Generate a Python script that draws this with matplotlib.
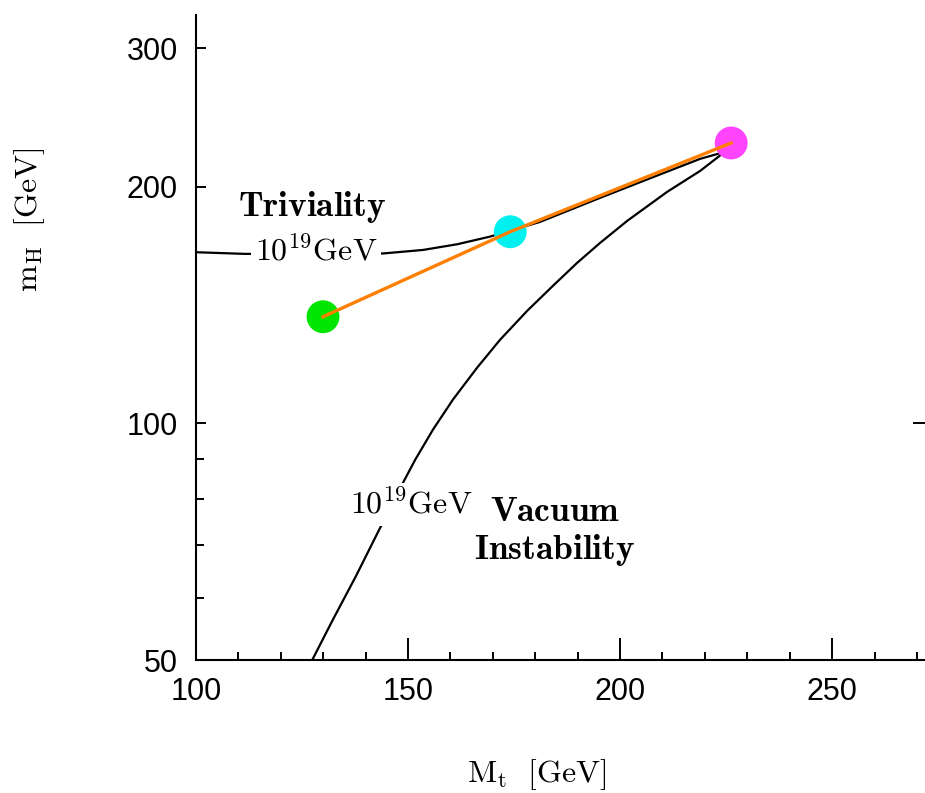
import matplotlib
matplotlib.use("Agg")
import matplotlib.pyplot as plt
from matplotlib.ticker import FixedLocator, NullLocator, FixedFormatter

plt.rcParams["font.family"] = ["Liberation Sans", "DejaVu Sans"]
plt.rcParams["mathtext.fontset"] = "cm"

# vacuum stability bound (10^19 GeV)
vac_mt = [127.4, 132.3, 137.7, 142.9, 148.6, 151.7, 155.9, 160.6, 166.3, 171.7, 178.1,
          184.2, 189.9, 195.3, 201.7, 211.1, 218.9, 224.65]
vac_mh = [50.0, 56.3, 63.9, 72.7, 83.6, 89.9, 98.2, 107.2, 117.7, 127.7, 139.0,
          149.6, 160.0, 169.6, 180.9, 196.9, 209.4, 221.3]

# triviality bound (10^19 GeV)
triv_mt = [100.0, 111.6, 144.1, 153.5, 161.6, 169.3, 181.1, 195.3, 209.4, 218.9, 224.65]
triv_mh = [165.0, 164.2, 164.4, 166.1, 168.9, 172.7, 180.3, 193.5, 207.2, 216.9, 221.3]

# highlighted points
pt_mt = [129.95, 174.1, 226.2]
pt_mh = [136.6, 175.2, 227.2]
pt_colors = ["#00e600", "#00f0f0", "#ff44ff"]

xticks_major = [100, 150, 200, 250]
xticks_minor = [110, 120, 130, 140, 160, 170, 180, 190, 210, 220, 230, 240, 260, 270]
yticks_major = [50, 100, 200, 300]
yticks_minor = [60, 70, 80, 90]

fig = plt.figure(figsize=(9.25, 7.93), dpi=100)
ax = fig.add_axes([0.2119, 0.1677, 0.7881, 0.8133])

ax.plot(vac_mt, vac_mh, color="black", lw=1.6, zorder=2)
ax.plot(triv_mt, triv_mh, color="black", lw=1.6, zorder=2)
ax.scatter(pt_mt, pt_mh, s=560, c=pt_colors, edgecolors="none", zorder=3)
ax.plot(pt_mt, pt_mh, color="#ff8000", lw=2.4, zorder=4)

ax.set_yscale("log")
ax.set_xlim(100, 271.9)
ax.set_ylim(50, 330.4)

ax.xaxis.set_major_locator(FixedLocator(xticks_major))
ax.xaxis.set_minor_locator(FixedLocator(xticks_minor))
ax.yaxis.set_major_locator(FixedLocator(yticks_major))
ax.yaxis.set_major_formatter(FixedFormatter([str(v) for v in yticks_major]))
ax.yaxis.set_minor_locator(FixedLocator(yticks_minor))
ax.yaxis.set_minor_formatter(FixedFormatter([""] * len(yticks_minor)))

ax.tick_params(axis="x", which="major", direction="in", length=16, width=1.4, pad=12, labelsize=22)
ax.tick_params(axis="x", which="minor", direction="in", length=6, width=1.4)
ax.tick_params(axis="y", which="major", direction="in", length=7, width=1.4, pad=13, labelsize=22)
ax.tick_params(axis="y", which="minor", direction="in", length=6, width=1.4)

for s in ["top", "right"]:
    ax.spines[s].set_visible(False)
for s in ["left", "bottom"]:
    ax.spines[s].set_linewidth(1.5)

# lone tick on the right edge at 100 GeV
ax2 = ax.twinx()
ax2.set_yscale("log")
ax2.set_ylim(ax.get_ylim())
ax2.yaxis.set_major_locator(FixedLocator([100]))
ax2.yaxis.set_minor_locator(NullLocator())
ax2.set_yticklabels([])
ax2.tick_params(axis="y", which="major", direction="in", length=9, width=1.4)
for s in ax2.spines.values():
    s.set_visible(False)

ax.text(127.4, 188.4, r"$\mathbf{Triviality}$", fontsize=25.5, ha="center", va="center", zorder=5)
ax.text(128.3, 165.5, r"$\mathrm{10^{19}GeV}$", fontsize=23, ha="center", va="center", zorder=5,
        bbox=dict(facecolor="white", edgecolor="none", pad=3))
ax.text(150.7, 78.9, r"$\mathrm{10^{19}GeV}$", fontsize=23, ha="center", va="center", zorder=5,
        bbox=dict(facecolor="white", edgecolor="none", pad=4))
ax.text(184.7, 72.9, r"$\mathbf{Vacuum}$" + "\n" + r"$\mathbf{Instability}$", fontsize=25.5,
        ha="center", va="center", linespacing=1.15, zorder=5)

fig.text(30 / 925, 1 - 220 / 793, r"$\mathrm{m_H\ \ [GeV]}$", fontsize=23, rotation=90, ha="center", va="center")
fig.text(537 / 925, 1 - 775 / 793, r"$\mathrm{M_t\ \ [GeV]}$", fontsize=23, ha="center", va="center")

fig.savefig("out.png", dpi=100)
